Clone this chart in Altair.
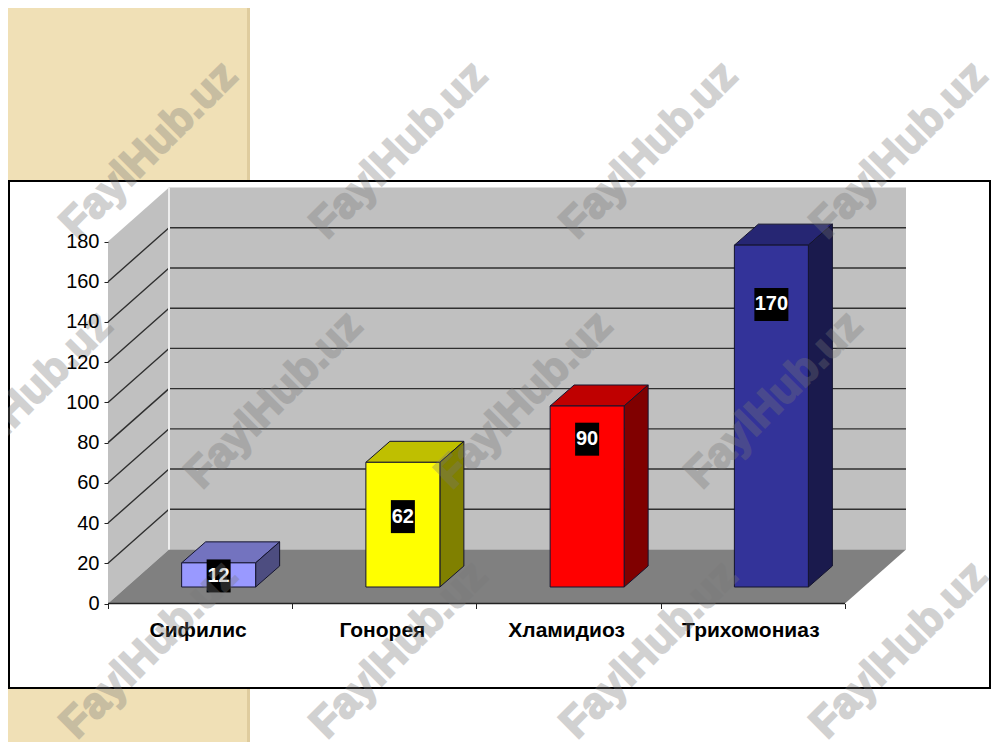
import altair as alt
import pandas as pd

categories = ["Сифилис", "Гонорея", "Хламидиоз", "Трихомониаз"]
values = [12, 62, 90, 170]
y_ticks = [0, 20, 40, 60, 80, 100, 120, 140, 160, 180]
front_colors = ["#9999FF", "#FFFF00", "#FF0000", "#333399"]
top_colors = ["#7373BF", "#BFBF00", "#BF0000", "#262673"]
side_colors = ["#4D4D80", "#808000", "#800000", "#1A1A4D"]
label_drops = [6.5, 27, 16.5, 29.5]

WIDTH, HEIGHT = 984, 734
UX, VY = 184.25, 2.011


def U(px):
    return (px - 108) / UX


def V(py):
    return (603.5 - py) / VY


WALL_DX, WALL_DV = 61 / UX, 54 / VY
BAR_DX, BAR_DV = 24 / UX, 21 / VY
BAR_OFF, BAR_W = 18.5 / UX, 74 / UX
BAR_BASE = V(587)
TOP_V = 180

xs = alt.Scale(domain=[U(8), U(992)], nice=False, zero=False)
ys = alt.Scale(domain=[V(742), V(8)], nice=False, zero=False)
x_axis = alt.Axis(orient="bottom", offset=-(742 - 603.5), values=[0, 1, 2, 3, 4],
                  labels=False, domain=False, grid=False, title=None,
                  ticks=True, tickSize=5, tickColor="#222222", zindex=1)
y_axis = alt.Axis(orient="left", offset=-100, values=y_ticks, domain=False,
                  grid=False, title=None, tickSize=4, tickColor="#222222",
                  labelFont="Liberation Sans", labelFontSize=20,
                  labelColor="#000000", labelPadding=5, zindex=1)
X = lambda f="x", **k: alt.X(f"{f}:Q", scale=xs, axis=x_axis, **k)
Y = lambda f="y", **k: alt.Y(f"{f}:Q", scale=ys, axis=y_axis, **k)


def rect(x0, x1, v0, v1, fill, **mk):
    d = pd.DataFrame([{"x": x0, "x2": x1, "y": v0, "y2": v1}])
    return alt.Chart(d).mark_rect(fill=fill, **mk).encode(
        x=X(), x2="x2:Q", y=Y(), y2="y2:Q")


def side(x0, x1, low0, high0, dv, fill, **mk):
    """parallelogram with vertical ends"""
    d = pd.DataFrame([
        {"x": x0, "y": low0, "y2": high0},
        {"x": x1, "y": low0 + dv, "y2": high0 + dv},
    ])
    return alt.Chart(d).mark_area(fill=fill, interpolate="linear", **mk).encode(
        x=X(), y=Y(), y2="y2:Q")


def flat(x0, x1, v0, dx, dv, fill, **mk):
    """parallelogram with horizontal ends"""
    d = pd.DataFrame([
        {"y": v0, "x": x0, "x2": x1},
        {"y": v0 + dv, "x": x0 + dx, "x2": x1 + dx},
    ])
    return alt.Chart(d).mark_area(fill=fill, orient="horizontal", interpolate="linear", **mk).encode(
        y=Y(), x=X(), x2="x2:Q")


def rule(rows, color, width):
    d = pd.DataFrame(rows, columns=["x", "x2", "y", "y2"])
    return alt.Chart(d).mark_rule(color=color, strokeWidth=width).encode(
        x=X(), x2="x2:Q", y=Y(), y2="y2:Q")


layers = []
# slide background
layers.append(rect(U(8), U(247), V(742), V(8), "#F0E0B6"))
layers.append(rect(U(247), U(250), V(742), V(8), "#DFCC9E"))
# chart frame
layers.append(rect(U(9), U(990), V(688), V(181), "#FFFFFF", stroke="#000000", strokeWidth=2))

# walls and floor
layers.append(rect(WALL_DX, 4 + WALL_DX, WALL_DV, TOP_V + WALL_DV, "#C0C0C0"))
layers.append(side(0, WALL_DX, 0, TOP_V, WALL_DV, "#C0C0C0"))
layers.append(flat(0, 4, 0, WALL_DX, WALL_DV, "#808080"))

# gridlines
grid = [t for t in y_ticks if 0 < t < TOP_V]
layers.append(rule([[WALL_DX, 4 + WALL_DX, t + WALL_DV, t + WALL_DV] for t in grid], "#2F2F2F", 1.4))
layers.append(rule([[0, WALL_DX, t, t + WALL_DV] for t in grid], "#2F2F2F", 1.4))
layers.append(rule([[WALL_DX, WALL_DX, WALL_DV, TOP_V + WALL_DV]], "#EDEDED", 2))
layers.append(rule([[0, 4, 0, 0]], "#222222", 1.6))

# bars
for i, v in enumerate(values):
    x0 = i + 0.5 + BAR_OFF - BAR_W / 2
    x1 = x0 + BAR_W
    top = BAR_BASE + v
    edge = dict(stroke="#14142E", strokeWidth=1)
    layers.append(flat(x0, x1, top, BAR_DX, BAR_DV, top_colors[i], **edge))
    layers.append(side(x1, x1 + BAR_DX, BAR_BASE, top, BAR_DV, side_colors[i], **edge))
    layers.append(rect(x0, x1, BAR_BASE, top, front_colors[i], **edge))

# data labels
label_rows = []
for i, v in enumerate(values):
    cx = i + 0.5 + BAR_OFF
    cy = BAR_BASE + v - label_drops[i]
    half = (34 if v >= 100 else 24) / 2 / UX
    label_rows.append({"x": cx - half, "x2": cx + half, "c": cx, "y": cy - 16.5 / VY,
                       "y2": cy + 16.5 / VY, "m": cy, "t": str(v)})
ld = pd.DataFrame(label_rows)
layers.append(alt.Chart(ld).mark_rect(fill="#000000").encode(x=X(), x2="x2:Q", y=Y(), y2="y2:Q"))
layers.append(alt.Chart(ld).mark_text(color="#FFFFFF", font="Liberation Sans", fontWeight="bold",
                                      fontSize=20, baseline="middle", align="center").encode(
    x=X("c"), y=Y("m"), text="t:N"))

# category labels
cd = pd.DataFrame({"x": [i + 0.5 for i in range(4)], "y": [V(631)] * 4, "t": categories})
layers.append(alt.Chart(cd).mark_text(color="#000000", font="Liberation Sans", fontWeight="bold",
                                      fontSize=21, baseline="middle", align="center", dx=-2).encode(
    x=X(), y=Y(), text="t:N"))

# watermark
wm_x = [149, 399, 649, 899, 24, 274, 524, 774, 149, 399, 649, 899]
wm_y = [150, 150, 150, 150, 400, 400, 400, 400, 650, 650, 650, 650]
wd = pd.DataFrame({"x": [U(p) for p in wm_x], "y": [V(p) for p in wm_y], "t": ["FaylHub.uz"] * 12})
layers.append(alt.Chart(wd).mark_text(color="#777777", stroke="#777777", strokeWidth=2, opacity=0.33,
                                      font="Liberation Sans", fontWeight="bold",
                                      fontSize=43, angle=315, baseline="middle", align="center").encode(
    x=X(), y=Y(), text="t:N"))

chart = alt.layer(*layers).properties(
    width=WIDTH, height=HEIGHT, padding=0, background="#FFFFFF",
    autosize=alt.AutoSizeParams(type="none"),
).configure_view(stroke=None)

chart.save("out.html", embed_options={"renderer": "svg", "actions": False})
